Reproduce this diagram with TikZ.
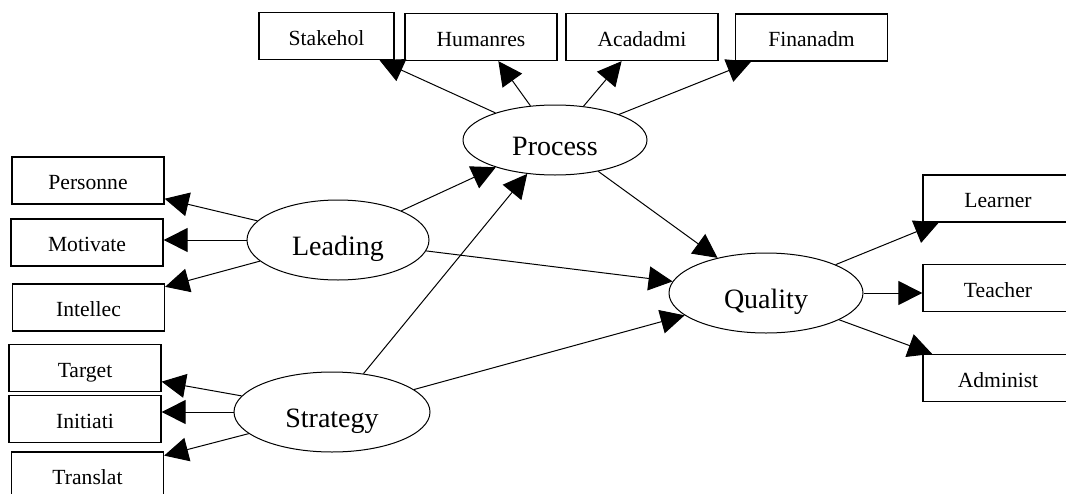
\documentclass[tikz,border=0pt]{standalone}
\usepackage{fontspec}
\setmainfont{Liberation Serif}
\usetikzlibrary{shapes.geometric, arrows.meta}

\begin{document}
\begin{tikzpicture}[x=0.5pt, y=-0.5pt, line width=0.5pt, >={Triangle[length=12pt, width=12pt]},
    item/.style = {draw, rectangle, line width=0.65pt, inner sep=0pt, minimum width=76pt, minimum height=23.5pt, text height=9pt, text depth=0pt, font=\fontsize{10.8}{12}\selectfont},
    factor/.style = {draw, ellipse, inner sep=0pt, minimum width=97pt, minimum height=40pt, text height=15pt, text depth=0pt, font=\fontsize{14}{16}\selectfont}]
        \useasboundingbox (0,0) rectangle (1066,493);
        \node[factor, minimum width=92pt, minimum height=35pt] (1) at (555,140) {Process};
        \node[factor, minimum width=91pt] (2) at (338,240) {Leading};
        \node[factor, minimum width=98pt] (3) at (332,412) {Strategy};
        \node[factor] (4) at (766,293) {Quality};
        \node[item, minimum width=67.5pt] (5) at (326.5,36) {Stakehol};
        \node[item] (6) at (481,37) {Humanres};
        \node[item] (7) at (642,37) {Acadadmi};
        \node[item] (8) at (811.5,37.5) {Finanadm};
        \node[item] (9) at (88,180.5) {Personne};
        \node[item] (10) at (87,242.5) {Motivate};
        \node[item] (11) at (88.5,307.5) {Intellec};
        \node[item] (12) at (85,368) {Target};
        \node[item] (13) at (85,419) {Initiati};
        \node[item] (14) at (87.5,475.5) {Translat};
        \node[item, minimum width=75pt] (15) at (998,198.5) {Learner};
        \node[item, minimum width=75pt] (16) at (998,288) {Teacher};
        \node[item, minimum width=75pt] (17) at (998,378) {Administ};
        \draw[->] (1) -- (5);
        \draw[->] (1) -- (6);
        \draw[->] (1) -- (7);
        \draw[->] (1) -- (8);
        \draw[->] (2) -- (9);
        \draw[->] (2.west) -- (2.west -| 10.east);
        \draw[->] (2) -- (11);
        \draw[->] (2) -- (1);
        \draw[->] (2) -- (4);
        \draw[->] (3) -- (12);
        \draw[->] (3.west) -- (3.west -| 13.east);
        \draw[->] (3) -- (14);
        \draw[->] (3) -- (1);
        \draw[->] (3) -- (4);
        \draw[->] (1) -- (4);
        \draw[->] (4) -- (15);
        \draw[->] (4.east) -- (4.east -| 16.west);
        \draw[->] (4) -- (17);
    \end{tikzpicture}
\end{document}
